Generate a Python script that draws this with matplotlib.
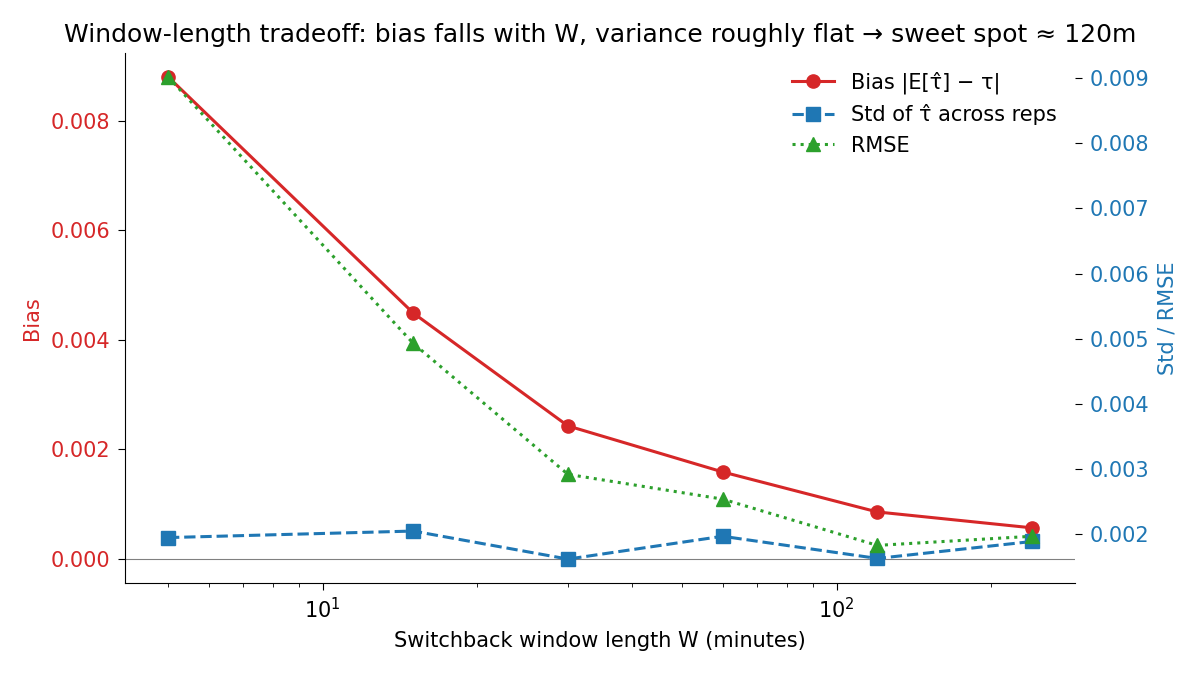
import matplotlib
matplotlib.use("Agg")
import matplotlib.pyplot as plt

W = [5, 15, 30, 60, 120, 240]
bias = [0.0088, 0.00449, 0.00243, 0.00159, 0.00086, 0.00057]
std = [0.00195, 0.00205, 0.00162, 0.00197, 0.00163, 0.00189]
rmse = [0.00902, 0.00493, 0.00292, 0.00254, 0.00183, 0.00197]

red = "#d62728"
blue = "#1f77b4"
green = "#2ca02c"

fig, ax = plt.subplots(figsize=(12, 6.75), dpi=100)
fig.subplots_adjust(left=0.104, right=0.896, top=0.922, bottom=0.136)

l1, = ax.plot(W, bias, color=red, marker="o", lw=2.2, ms=9.5, label="Bias |E[τ̂] − τ|")
ax.axhline(0, color="gray", lw=0.8)
ax.set_xscale("log")
ax.set_ylabel("Bias", color=red, fontsize=15, labelpad=6)
ax.tick_params(axis="y", labelcolor=red, labelsize=15, length=5, pad=5.25)
ax.tick_params(axis="x", which="major", labelsize=15, length=5, pad=5.25)
ax.tick_params(axis="x", which="minor", length=3)
ax.set_xlabel("Switchback window length W (minutes)", fontsize=15, labelpad=6)
ax.spines["top"].set_visible(False)
ax.spines["right"].set_visible(False)

ax2 = ax.twinx()
l2, = ax2.plot(W, std, color=blue, marker="s", ls="--", lw=2.2, ms=9.5, label="Std of τ̂ across reps")
l3, = ax2.plot(W, rmse, color=green, marker="^", ls=":", lw=2.2, ms=9.5, label="RMSE")
ax2.set_ylabel("Std / RMSE", color=blue, fontsize=15, labelpad=6)
ax2.tick_params(axis="y", labelcolor=blue, labelsize=15, length=5, pad=5.25)
for s in ax2.spines.values():
    s.set_visible(False)

ax2.legend(handles=[l1, l2, l3], loc="upper right", frameon=False, fontsize=15)
ax.set_title("Window-length tradeoff: bias falls with W, variance roughly flat → sweet spot ≈ 120m", fontsize=18, pad=7.5)

fig.savefig("out.png")
